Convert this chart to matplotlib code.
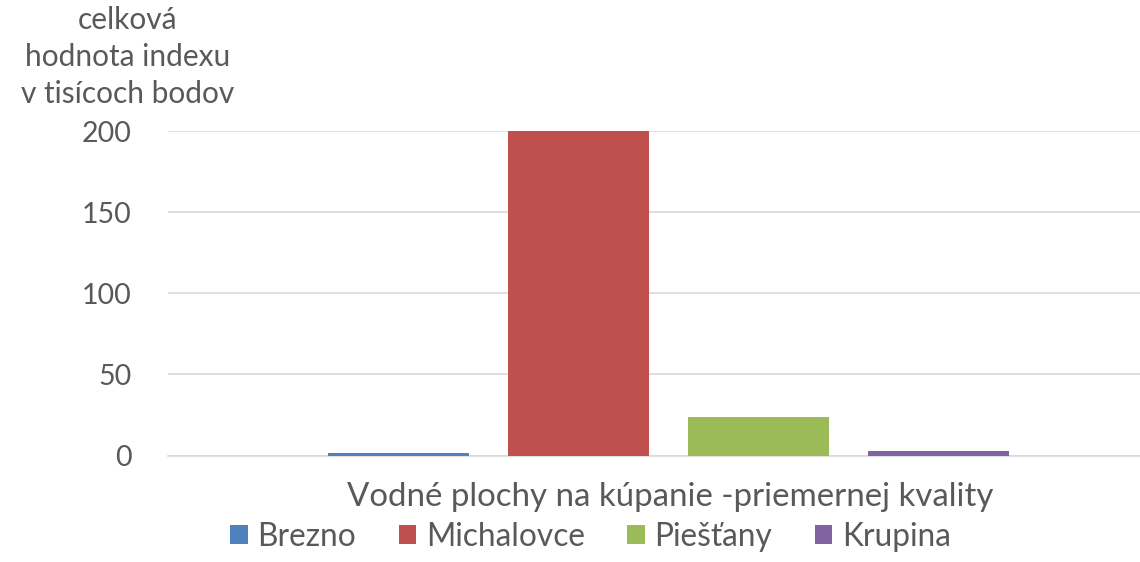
import matplotlib
matplotlib.use("Agg")
import matplotlib.pyplot as plt
from matplotlib.patches import Patch

# data
category = "Vodné plochy na kúpanie -priemernej kvality"
series = ["Brezno", "Michalovce", "Piešťany", "Krupina"]
values = [1.5, 200, 24, 3]
colors = ["#4F81BD", "#C0504D", "#9BBB59", "#8064A2"]
yticks = [0, 50, 100, 150, 200]
ylabel = "celková\nhodnota indexu\nv tisícoch bodov"

plt.rcParams["font.family"] = ["Lato", "DejaVu Sans"]
textcolor = "#595959"

fig = plt.figure(figsize=(11.4, 5.62), dpi=100)
ax = fig.add_axes([0.1474, 0.1895, 0.8526, 0.5774])

# bars of one category, side by side
positions = [i - (len(series) - 1) / 2 for i in range(len(series))]
for x, v, c, name in zip(positions, values, colors, series):
    ax.bar(x, v, width=0.78, color=c, label=name, zorder=3)

ax.set_xlim(-2.78, 2.62)
ax.set_ylim(0, 200)
ax.set_yticks(yticks)
ax.set_yticklabels([str(t) for t in yticks], fontsize=20.5, color=textcolor)
ax.set_xticks([])
ax.tick_params(axis="y", length=0, pad=26)

ax.grid(axis="y", color="#D9D9D9", linewidth=1.2, zorder=0)
for side in ["top", "right", "left"]:
    ax.spines[side].set_visible(False)
ax.spines["bottom"].set_color("#D9D9D9")
ax.spines["bottom"].set_linewidth(1.2)

# y axis title sits above the tick labels
fig.text(0.112, 0.99, ylabel, ha="center", va="top", fontsize=21.5,
         color=textcolor, linespacing=1.4)

# category label under the axis
fig.text(0.588, 0.115, category, ha="center", va="center", fontsize=23.8, color=textcolor)

handles = [Patch(facecolor=c, edgecolor="none") for c in colors]
fig.legend(handles, series, loc="center", bbox_to_anchor=(0.518, 0.045), ncol=4,
           frameon=False, fontsize=22.8, labelcolor=textcolor, handlelength=0.55,
           handleheight=0.55, handletextpad=0.3, columnspacing=1.35)

fig.savefig("out.png", dpi=100)
